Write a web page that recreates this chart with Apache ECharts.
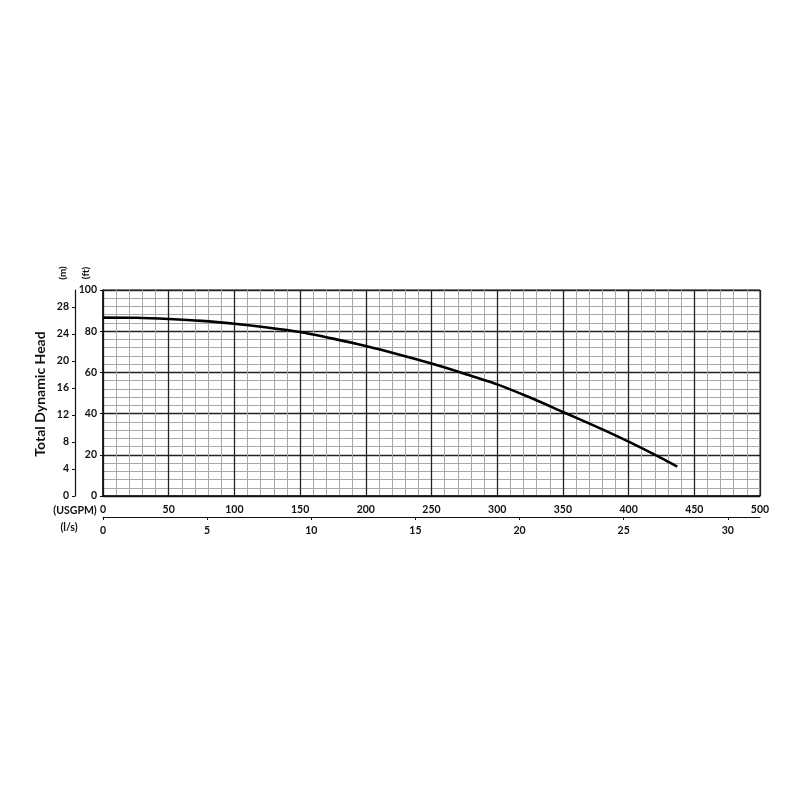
<!DOCTYPE html>
<html style="height: 100%">
<head>
    <meta charset="UTF-8">
    <title>Pump Curve</title>
    <script src="https://cdn.jsdelivr.net/npm/echarts@6.0.0/dist/echarts.min.js"></script>
    <style>
        body { margin: 0; background: #fff; }
        #chart { width: 800px; height: 800px; }
    </style>
</head>
<body>
    <div id="chart"></div>
    <script>
        // flow (USGPM) and head (ft)
        var flowUsgpm = [0, 25, 50, 75, 100, 125, 150, 175, 200, 225, 250, 275, 300, 325, 350, 375, 400, 425, 437];
        var headFt = [86.6, 86.5, 85.9, 85.0, 83.6, 81.8, 79.6, 76.4, 72.8, 68.7, 64.3, 59.4, 54.2, 47.8, 40.8, 33.8, 26.4, 18.4, 14.3];

        // tick labels
        var ftTicks = [0, 20, 40, 60, 80, 100];
        var mTicks = [0, 4, 8, 12, 16, 20, 24, 28];
        var usgpmTicks = [0, 50, 100, 150, 200, 250, 300, 350, 400, 450, 500];
        var lsTicks = [0, 5, 10, 15, 20, 25, 30];

        var FT_TO_M = 0.3048;
        var USGPM_TO_LS = 0.0630902;

        var curve = flowUsgpm.map(function (q, i) { return [q, headFt[i]]; });

        var font = 'Lato, "Open Sans", sans-serif';
        var lbl = { color: '#111', fontFamily: font, fontWeight: 'bold', fontSize: 10.5 };

        var option = {
            animation: false,
            grid: { left: 103, right: 40, top: 290, bottom: 304, show: true, borderColor: '#222', borderWidth: 1 },
            xAxis: [
                {
                    type: 'value', min: 0, max: 500, interval: 50, position: 'bottom',
                    axisLine: { show: true, onZero: false, lineStyle: { color: '#111', width: 1.5 } },
                    axisTick: { show: false },
                    axisLabel: Object.assign({ margin: 8, customValues: usgpmTicks }, lbl),
                    splitLine: { show: true, lineStyle: { color: '#222', width: 1.3 } },
                    minorTick: { show: false, splitNumber: 5 },
                    minorSplitLine: { show: true, lineStyle: { color: '#a8a8a8', width: 1 } }
                },
                {
                    type: 'value', min: 0, max: 500 * USGPM_TO_LS, position: 'bottom', offset: 21,
                    axisLine: { show: true, onZero: false, lineStyle: { color: '#111', width: 1.2 } },
                    axisTick: { show: true, length: 3, customValues: lsTicks, lineStyle: { color: '#111' } },
                    axisLabel: Object.assign({ margin: 8, customValues: lsTicks }, lbl),
                    splitLine: { show: false }
                }
            ],
            yAxis: [
                {
                    type: 'value', min: 0, max: 100, interval: 20, position: 'left',
                    axisLine: { show: true, onZero: false, lineStyle: { color: '#111', width: 1.5 } },
                    axisTick: { show: true, length: 3, lineStyle: { color: '#111' } },
                    axisLabel: Object.assign({ margin: 6, customValues: ftTicks }, lbl),
                    splitLine: { show: true, lineStyle: { color: '#222', width: 1.3 } },
                    minorTick: { show: false, splitNumber: 5 },
                    minorSplitLine: { show: true, lineStyle: { color: '#a8a8a8', width: 1 } }
                },
                {
                    type: 'value', min: 0, max: 100 * FT_TO_M, position: 'left', offset: 28,
                    axisLine: { show: true, onZero: false, lineStyle: { color: '#111', width: 1.2 } },
                    axisTick: { show: true, length: 3, customValues: mTicks, lineStyle: { color: '#111' } },
                    axisLabel: Object.assign({ margin: 6, customValues: mTicks }, lbl),
                    splitLine: { show: false }
                }
            ],
            graphic: [
                { type: 'text', x: 40, y: 394, rotation: Math.PI / 2,
                  style: { text: 'Total Dynamic Head', font: 'bold 14px ' + font, fill: '#111', align: 'center', verticalAlign: 'middle' } },
                { type: 'text', x: 63, y: 273, rotation: Math.PI / 2,
                  style: { text: '(m)', font: 'bold 10px ' + font, fill: '#111', align: 'center', verticalAlign: 'middle' } },
                { type: 'text', x: 86, y: 273, rotation: Math.PI / 2,
                  style: { text: '(ft)', font: 'bold 10px ' + font, fill: '#111', align: 'center', verticalAlign: 'middle' } },
                { type: 'text', x: 75, y: 511,
                  style: { text: '(USGPM)', font: 'bold 10.5px ' + font, fill: '#111', align: 'center', verticalAlign: 'middle' } },
                { type: 'text', x: 69, y: 528,
                  style: { text: '(l/s)', font: 'bold 10.5px ' + font, fill: '#111', align: 'center', verticalAlign: 'middle' } }
            ],
            series: [
                {
                    type: 'line', xAxisIndex: 0, yAxisIndex: 0,
                    data: curve, smooth: 0.25, symbol: 'none',
                    lineStyle: { color: '#000', width: 2.6 }, z: 5
                }
            ]
        };

        var chart = echarts.init(document.getElementById('chart'));
        chart.setOption(option);
    </script>
</body>
</html>
